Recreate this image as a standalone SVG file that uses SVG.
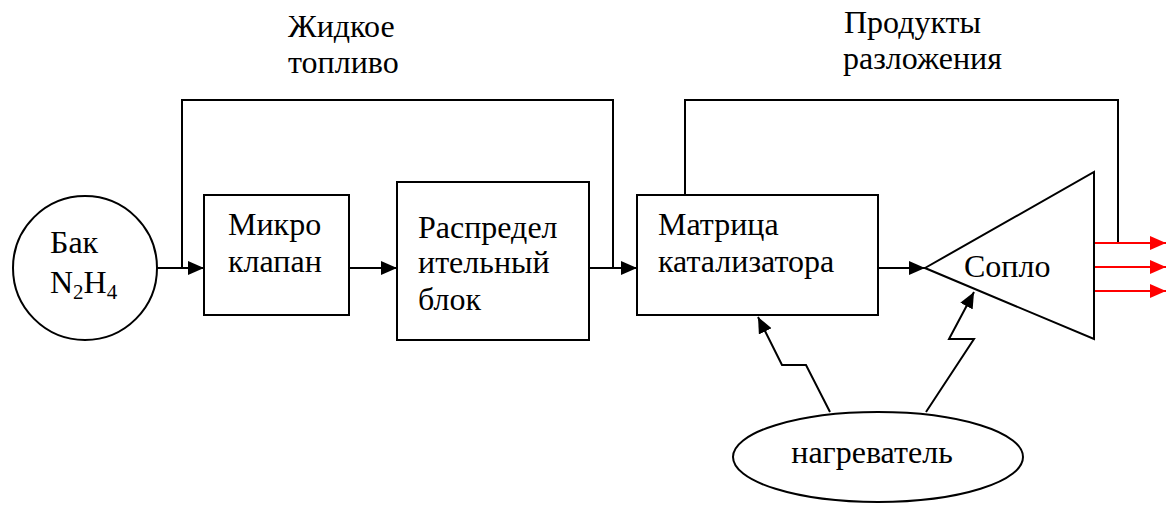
<svg xmlns="http://www.w3.org/2000/svg" width="1166" height="506" viewBox="0 0 1166 506">
<style>
.s{fill:none;stroke:#000;stroke-width:2}
.r{fill:none;stroke:#f00;stroke-width:2}
text{font-family:'Liberation Serif','Times New Roman','DejaVu Serif',serif;font-size:32px;fill:#000}
.sub{font-size:21px}
</style>
<defs>
<marker id="ah" markerWidth="16" markerHeight="14" refX="16" refY="7" orient="auto" markerUnits="userSpaceOnUse"><path d="M0,0 L16,7 L0,14 Z" fill="#000"/></marker>
<marker id="rh" markerWidth="16" markerHeight="14" refX="16" refY="7" orient="auto" markerUnits="userSpaceOnUse"><path d="M0,0 L16,7 L0,14 Z" fill="#f00"/></marker>
</defs>
<rect width="1166" height="506" fill="#fff"/>
<g id="labels">
<text x="288" y="37">Жидкое</text>
<text x="288" y="73">топливо</text>
<text x="844" y="33">Продукты</text>
<text x="843" y="69">разложения</text>
</g>
<g id="connectors">
<path class="s" d="M157,268 H204" marker-end="url(#ah)"/>
<path class="s" d="M182,268 V100 H613 V268"/>
<path class="s" d="M349,268 H397" marker-end="url(#ah)"/>
<path class="s" d="M589,268 H637" marker-end="url(#ah)"/>
<path class="s" d="M685,195 V100 H1118 V243"/>
<path class="s" d="M878,268 H925" marker-end="url(#ah)"/>
<path class="s" d="M830,412 L806,365 H782 L758,317" marker-end="url(#ah)"/>
<path class="s" d="M926,412 L974,339 H949 L974,292" marker-end="url(#ah)"/>
<path class="r" d="M1094,243 H1166" marker-end="url(#rh)"/>
<path class="r" d="M1094,267 H1166" marker-end="url(#rh)"/>
<path class="r" d="M1094,291 H1166" marker-end="url(#rh)"/>
</g>
<g id="tank">
<circle class="s" cx="85" cy="268" r="72"/>
<text x="50" y="253">Бак</text>
<text x="50" y="293">N<tspan class="sub" dy="6">2</tspan><tspan dy="-6">H</tspan><tspan class="sub" dy="6">4</tspan></text>
</g>
<g id="microvalve">
<rect class="s" x="204" y="195" width="145" height="120"/>
<text x="228" y="235">Микро</text>
<text x="228" y="272">клапан</text>
</g>
<g id="distributor">
<rect class="s" x="397" y="182" width="192" height="158"/>
<text x="418" y="238">Распредел</text>
<text x="418" y="273">ительный</text>
<text x="418" y="310">блок</text>
</g>
<g id="catalyst">
<rect class="s" x="637" y="195" width="241" height="120"/>
<text x="658" y="235">Матрица</text>
<text x="658" y="272">катализатора</text>
</g>
<g id="nozzle">
<path class="s" d="M925,268 L1094,172 V339 Z"/>
<text x="964" y="277">Сопло</text>
</g>
<g id="heater">
<ellipse class="s" cx="878" cy="457" rx="145" ry="45"/>
<text x="872" y="463" text-anchor="middle">нагреватель</text>
</g>
</svg>
